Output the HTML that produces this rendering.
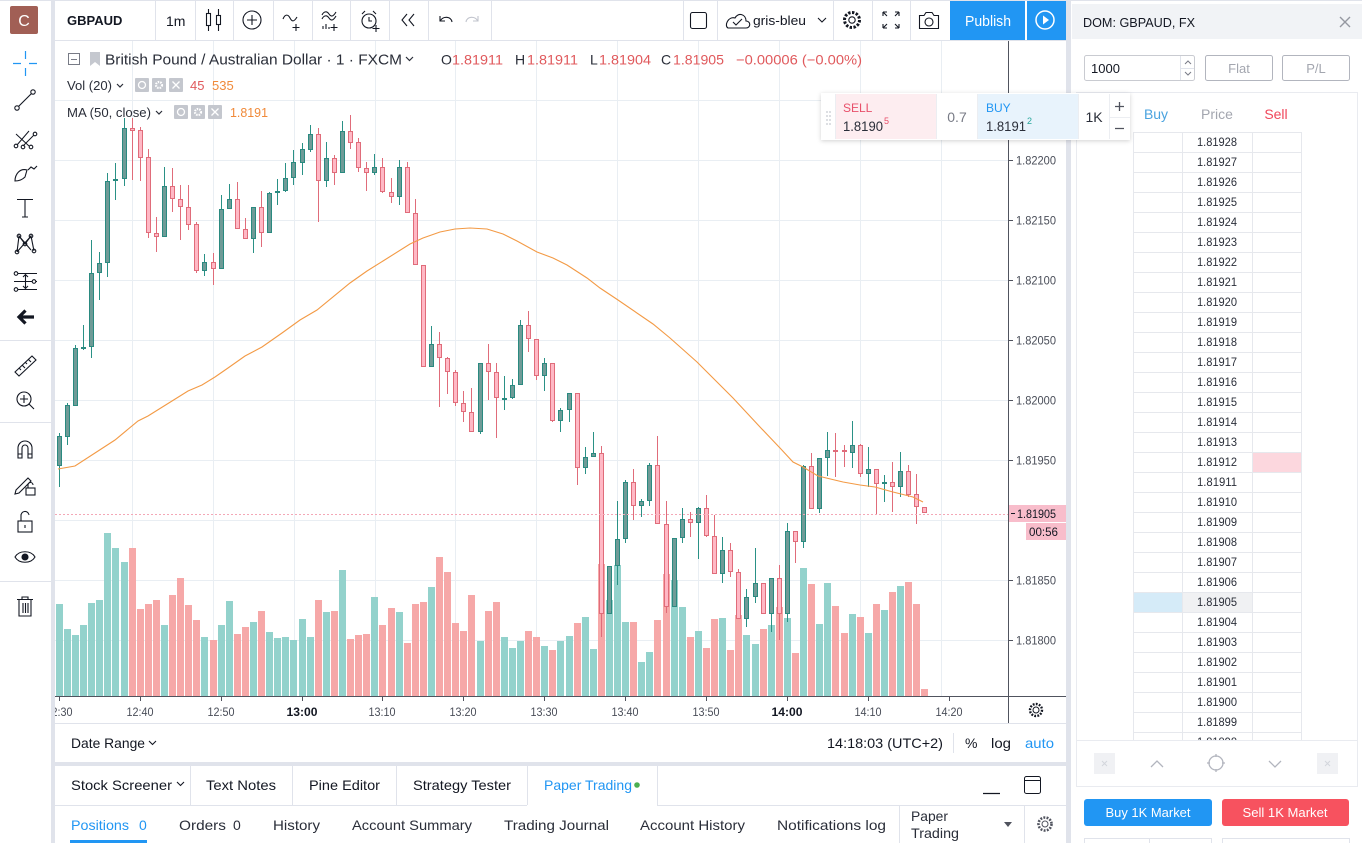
<!DOCTYPE html>
<html><head><meta charset="utf-8"><style>
html,body{margin:0;padding:0;background:#e0e3eb;}
svg{display:block;}
text{font-family:"Liberation Sans",sans-serif;}
.gw{stroke:#2a9186;stroke-width:1;fill:none}
.rw{stroke:#e06c7a;stroke-width:1;fill:none}
.gb rect{fill:#6f9b97;stroke:#2a8a80;stroke-width:1}
.rb rect{fill:#ffb8c5;stroke:#e06c7a;stroke-width:1}
.gv rect{fill:#93d2cc}
.rv rect{fill:#f6a8a8}
.ic{fill:none;stroke:#131722;stroke-width:1.1}
</style></head><body>
<svg width="1362" height="843" viewBox="0 0 1362 843" xmlns="http://www.w3.org/2000/svg">
<defs>
<clipPath id="plot"><rect x="55" y="41" width="953" height="655"/></clipPath>
<clipPath id="tax"><rect x="55" y="697" width="953" height="26"/></clipPath>
<clipPath id="dom"><rect x="1077" y="96" width="280" height="644"/></clipPath>
<filter id="sh" x="-5%" y="-20%" width="110%" height="150%"><feDropShadow dx="0" dy="1" stdDeviation="2" flood-color="#000" flood-opacity="0.18"/></filter>
</defs>
<rect width="1362" height="843" fill="#e0e3eb"/>
<!-- panels -->
<rect x="0" y="1" width="51" height="842" fill="#fff"/>
<rect x="55" y="1" width="1011" height="39" fill="#fff"/>
<rect x="55" y="41" width="1011" height="721" fill="#fff"/>
<rect x="55" y="766" width="1011" height="77" fill="#fff"/>
<rect x="1071" y="1" width="291" height="842" fill="#fff"/>

<!-- ============ LEFT TOOLBAR ============ -->
<rect x="10" y="6" width="28" height="28" rx="2" fill="#a15f55"/>
<text x="24" y="26" font-size="16" fill="#fff" text-anchor="middle">C</text>
<path d="M13 63.5H21M29 63.5H37M25.5 51V59M25.5 68V76" stroke="#2196f3" stroke-width="1.2" fill="none"/>
<g class="ic">
<circle cx="17" cy="108" r="2.2"/><circle cx="33" cy="92" r="2.2"/><path d="M18.6 106.4L31.4 93.6"/>
<path d="M16 134L29 146M17 145L29 131M23 146L34 135" stroke-width="1"/><circle cx="16" cy="146" r="1.8"/><circle cx="23" cy="147" r="1.8"/><circle cx="31" cy="147" r="1.8"/><circle cx="35" cy="134" r="1.8"/>
<path d="M15 181C15 174 20 168 27 170L25 177C22 180 18 181 15 181Z M28 170L31 167L34 169L37 166"/>
<path d="M17 199.5H33M25 199.5V217M22 217H28"/>
<path d="M17 252L19 236L25 244L31 236L34 251M19 236L31 250M17 252L31 236"/><circle cx="17" cy="252" r="1.8"/><circle cx="19" cy="236" r="1.8"/><circle cx="31" cy="236" r="1.8"/><circle cx="34" cy="251" r="1.8"/><circle cx="25" cy="244" r="1.8"/>
<path d="M14 273.5H37M14 281.5H37M14 289.5H37M25.5 275V288M23 277L25.5 274.5L28 277M23 286L25.5 288.5L28 286"/>
<circle cx="16" cy="273.5" r="1.8" fill="#fff"/><circle cx="34" cy="281.5" r="1.8" fill="#fff"/><circle cx="16" cy="289.5" r="1.8" fill="#fff"/>
<path d="M15 372L32 356L36 360L19 376Z M19 368L21 370M22 365L25 368M25 362L27 364M28 359L31 362"/>
<circle cx="24" cy="399" r="7"/><path d="M24 395V403M20 399H28M29 404L34 409"/>
<path d="M18 458V448a7 7 0 0 1 14 0V458H28V448a3 3 0 0 0 -6 0V458Z M18 454H22M28 454H32"/>
<path d="M16 490L28 478L31 481L19 493L15 494Z"/><rect x="26" y="488" width="9" height="7"/><path d="M28 488V485a2.5 2.5 0 0 1 5 0"/>
<rect x="18" y="521" width="14" height="11"/><path d="M21 521V516a4 4 0 0 1 8 -1"/><path d="M25 525V528"/>
<path d="M15 557C19 550 31 550 35 557C31 564 19 564 15 557Z"/><circle cx="25" cy="557" r="3" fill="#131722"/>
<path d="M17 599.5H33M22 599.5V597H28V599.5M19 600V616H31V600M23 603V613M25.5 603V613M28 603V613"/>
</g>
<path d="M34 317H19M25.5 310.5L19 317L25.5 323.5" fill="none" stroke="#131722" stroke-width="3.2" stroke-linejoin="miter" stroke-linecap="butt"/>
<path d="M0 340.5H51M0 422.5H51M0 581.5H51" stroke="#e0e3eb"/>

<!-- ============ TOP TOOLBAR ============ -->
<text x="67" y="25" font-size="13" font-weight="bold" fill="#131722">GBPAUD</text>
<text x="166" y="26" font-size="14" fill="#131722">1m</text>
<g stroke="#e0e3eb"><path d="M155.5 1V40M195.5 1V40M233.5 1V40M273.5 1V40M312.5 1V40M350.5 1V40M389.5 1V40M428.5 1V40M491.5 1V40M683.5 1V40M717.5 1V40M833.5 1V40M872.5 1V40M910.5 1V40"/></g>
<g class="ic">
<path d="M208.5 9V31M218.5 9V31"/><rect x="206.5" y="13.5" width="4" height="12" fill="#fff"/><rect x="216.5" y="15.5" width="4" height="9" fill="#fff"/>
<circle cx="252" cy="20" r="9"/><path d="M252 15V25M247 20H257"/>
<path d="M283 19C285 14 288 14 290 18C292 22 294 22 297 17M296 24V31M292.5 27.5H299.5"/>
<path d="M322 15C324 11 327 11 329 14C331 17 333 17 336 12M322 19C324 15 327 15 329 18C331 21 333 21 336 16M323 29V26M326 29V24M329 29V27M334 24V31M330.5 27.5H337.5"/>
<circle cx="369" cy="21" r="7"/><path d="M369 17V21H372M362 14L365 11M376 14L373 11M376 25V32M372.5 28.5H379.5"/>
<path d="M407 14L402 20L407 26M414 14L409 20L414 26"/>
<path d="M440 16V21H445M440.5 20.5C443 16 451 16 452 22"/>
</g>
<path d="M478 16V21H473M477.5 20.5C475 16 467 16 466 22" fill="none" stroke="#c1c4cd" stroke-width="1.1"/>
<g class="ic">
<rect x="690.5" y="12.5" width="16" height="16" rx="2"/>
<path d="M728 28H746C751 28 751 21 746 21C746 14 738 12 735 18C728 16 724 26 728 28Z"/><path d="M733 22L736 25L742 19"/>
<path d="M818 18L822 22L826 18"/>
<circle cx="852" cy="20" r="3.2"/>
<circle cx="852" cy="20" r="7.5" stroke-width="3" stroke-dasharray="2.4 1.5"/>
<path d="M883 12H887M883 12V16M899 12H895M899 12V16M883 28H887M883 28V24M899 28H895M899 28V24M883 12L887 16M899 12L895 16M883 28L887 24M899 28L895 24"/>
<path d="M919.5 15.5H924L926 12.5H932L934 15.5H938.5V28.5H919.5Z"/><circle cx="929" cy="22" r="4"/>
</g>
<text x="753" y="25" font-size="13" fill="#131722" textLength="53" lengthAdjust="spacingAndGlyphs">gris-bleu</text>
<rect x="950" y="1" width="75" height="39" fill="#2196f3"/>
<text x="988" y="26" font-size="15" fill="#fff" text-anchor="middle" textLength="46" lengthAdjust="spacingAndGlyphs">Publish</text>
<rect x="1027" y="1" width="39" height="39" fill="#2196f3"/>
<circle cx="1045" cy="20" r="9" fill="none" stroke="#fff" stroke-width="1.5"/>
<path d="M1043 15.5L1049 20L1043 24.5Z" fill="#fff"/>

<!-- ============ CHART ============ -->
<g clip-path="url(#plot)">
<g stroke="#e9eef3" fill="none">
<path d="M55 100.5H1008M55 160.5H1008M55 220.5H1008M55 280.5H1008M55 340.5H1008M55 400.5H1008M55 460.5H1008M55 520.5H1008M55 580.5H1008M55 640.5H1008"/>
<path d="M132.5 41V696M213.5 41V696M294.5 41V696M375.5 41V696M455.5 41V696M536.5 41V696M617.5 41V696M698.5 41V696M779.5 41V696M860.5 41V696M941.5 41V696"/>
</g>
<!-- volume -->
<g class="gv">
<rect x="56" y="604" width="7" height="92"/><rect x="64" y="629" width="7" height="67"/><rect x="72" y="635" width="7" height="61"/><rect x="80" y="625" width="7" height="71"/><rect x="88" y="603" width="7" height="93"/><rect x="96" y="600" width="7" height="96"/><rect x="104" y="533" width="7" height="163"/><rect x="112" y="548" width="7" height="148"/><rect x="121" y="562" width="7" height="134"/><rect x="161" y="625" width="7" height="71"/><rect x="201" y="637" width="7" height="59"/><rect x="218" y="625" width="7" height="71"/><rect x="226" y="601" width="7" height="95"/><rect x="250" y="622" width="7" height="74"/><rect x="266" y="632" width="7" height="64"/><rect x="274" y="638" width="7" height="58"/><rect x="282" y="637" width="7" height="59"/><rect x="290" y="640" width="7" height="56"/><rect x="299" y="619" width="7" height="77"/><rect x="307" y="637" width="7" height="59"/><rect x="323" y="612" width="7" height="84"/><rect x="339" y="570" width="7" height="126"/><rect x="371" y="597" width="7" height="99"/><rect x="396" y="612" width="7" height="84"/><rect x="428" y="587" width="7" height="109"/><rect x="477" y="641" width="7" height="55"/><rect x="501" y="637" width="7" height="59"/><rect x="509" y="648" width="7" height="48"/><rect x="517" y="641" width="7" height="55"/><rect x="541" y="646" width="7" height="50"/><rect x="557" y="641" width="7" height="55"/><rect x="566" y="636" width="7" height="60"/><rect x="582" y="617" width="7" height="79"/><rect x="590" y="649" width="7" height="47"/><rect x="606" y="600" width="7" height="96"/><rect x="614" y="565" width="7" height="131"/><rect x="622" y="622" width="7" height="74"/><rect x="638" y="662" width="7" height="34"/><rect x="646" y="652" width="7" height="44"/><rect x="671" y="580" width="7" height="116"/><rect x="679" y="607" width="7" height="89"/><rect x="695" y="631" width="7" height="65"/><rect x="719" y="618" width="7" height="78"/><rect x="743" y="635" width="7" height="61"/><rect x="752" y="644" width="7" height="52"/><rect x="768" y="625" width="7" height="71"/><rect x="784" y="618" width="7" height="78"/><rect x="800" y="568" width="7" height="128"/><rect x="816" y="624" width="7" height="72"/><rect x="824" y="583" width="7" height="113"/><rect x="849" y="614" width="7" height="82"/><rect x="865" y="633" width="7" height="63"/><rect x="881" y="610" width="7" height="86"/><rect x="897" y="586" width="7" height="110"/>
</g>
<g class="rv">
<rect x="129" y="548" width="7" height="148"/><rect x="137" y="609" width="7" height="87"/><rect x="145" y="604" width="7" height="92"/><rect x="153" y="600" width="7" height="96"/><rect x="169" y="595" width="7" height="101"/><rect x="177" y="578" width="7" height="118"/><rect x="185" y="605" width="7" height="91"/><rect x="193" y="620" width="7" height="76"/><rect x="210" y="640" width="7" height="56"/><rect x="234" y="634" width="7" height="62"/><rect x="242" y="627" width="7" height="69"/><rect x="258" y="611" width="7" height="85"/><rect x="315" y="600" width="7" height="96"/><rect x="331" y="611" width="7" height="85"/><rect x="347" y="639" width="7" height="57"/><rect x="355" y="635" width="7" height="61"/><rect x="363" y="634" width="7" height="62"/><rect x="379" y="625" width="7" height="71"/><rect x="388" y="608" width="7" height="88"/><rect x="404" y="643" width="7" height="53"/><rect x="412" y="604" width="7" height="92"/><rect x="420" y="602" width="7" height="94"/><rect x="436" y="557" width="7" height="139"/><rect x="444" y="572" width="7" height="124"/><rect x="452" y="623" width="7" height="73"/><rect x="460" y="631" width="7" height="65"/><rect x="468" y="595" width="7" height="101"/><rect x="485" y="611" width="7" height="85"/><rect x="493" y="602" width="7" height="94"/><rect x="525" y="631" width="7" height="65"/><rect x="533" y="637" width="7" height="59"/><rect x="549" y="650" width="7" height="46"/><rect x="574" y="623" width="7" height="73"/><rect x="598" y="564" width="7" height="132"/><rect x="630" y="622" width="7" height="74"/><rect x="654" y="620" width="7" height="76"/><rect x="663" y="574" width="7" height="122"/><rect x="687" y="637" width="7" height="59"/><rect x="703" y="648" width="7" height="48"/><rect x="711" y="619" width="7" height="77"/><rect x="727" y="650" width="7" height="46"/><rect x="735" y="615" width="7" height="81"/><rect x="760" y="629" width="7" height="67"/><rect x="776" y="607" width="7" height="89"/><rect x="792" y="653" width="7" height="43"/><rect x="808" y="584" width="7" height="112"/><rect x="832" y="606" width="7" height="90"/><rect x="841" y="633" width="7" height="63"/><rect x="857" y="617" width="7" height="79"/><rect x="873" y="604" width="7" height="92"/><rect x="889" y="592" width="7" height="104"/><rect x="905" y="582" width="7" height="114"/><rect x="913" y="604" width="7" height="92"/><rect x="921" y="689" width="7" height="7"/>
</g>
<!-- wicks -->
<path class="gw" d="M59.5 433V487M67.5 403V445M75.5 345V406M83.5 325V350M91.5 240V358M99.5 252V300M107.5 173V277M115.5 163V200M124.5 118V186M164.5 167V237M204.5 254V276M221.5 195V269M229.5 184V209M253.5 207V253M269.5 192V233M277.5 179V205M285.5 163V192M293.5 150V185M302.5 143V175M310.5 125V152M326.5 142V187M342.5 121V173M374.5 154V175M399.5 160V205M431.5 326V367M480.5 363V434M504.5 376V410M512.5 379V399M520.5 320V385M544.5 358V391M560.5 408V432M569.5 393V422M585.5 447V474M593.5 432V457M609.5 566V614M617.5 501V585M625.5 480V543M641.5 499V517M649.5 463V506M674.5 538V607M682.5 508V543M698.5 507V559M722.5 537V583M746.5 589V627M755.5 548V603M771.5 578V632M787.5 523V622M803.5 465V548M819.5 458V513M827.5 432V476M852.5 421V468M868.5 447V487M884.5 475V502M900.5 452V497"/>
<path class="rw" d="M132.5 118V180M140.5 127V181M148.5 149V238M156.5 217V252M172.5 168V212M180.5 185V240M188.5 185V230M196.5 222V273M213.5 253V285M237.5 182V229M245.5 218V239M261.5 191V247M318.5 128V222M334.5 155V185M350.5 115V149M358.5 138V172M366.5 162V191M382.5 158V193M391.5 178V203M407.5 162V213M415.5 199V265M423.5 265V367M439.5 332V407M447.5 357V394M455.5 370V406M463.5 391V422M471.5 388V432M488.5 344V400M496.5 363V438M528.5 311V352M536.5 339V380M552.5 363V422M577.5 393V485M601.5 446V637M633.5 469V520M657.5 436V524M666.5 501V613M690.5 512V537M706.5 495V537M714.5 515V574M730.5 543V577M738.5 569V619M763.5 583V614M779.5 565V640M795.5 531V563M811.5 453V509M835.5 433V477M844.5 445V467M860.5 444V477M876.5 469V515M892.5 462V512M908.5 465V497M916.5 474V524M924.5 507V513"/>
<!-- bodies -->
<g class="gb">
<rect x="57.5" y="436.5" width="4" height="29"/><rect x="65.5" y="405.5" width="4" height="31"/><rect x="73.5" y="348.5" width="4" height="57"/><rect x="81.5" y="347.5" width="4" height="1"/><rect x="89.5" y="273.5" width="4" height="73"/><rect x="97.5" y="263.5" width="4" height="9"/><rect x="105.5" y="181.5" width="4" height="81"/><rect x="113.5" y="179.5" width="4" height="1"/><rect x="122.5" y="128.5" width="4" height="50"/><rect x="162.5" y="186.5" width="4" height="50"/><rect x="202.5" y="262.5" width="4" height="8"/><rect x="219.5" y="209.5" width="4" height="59"/><rect x="227.5" y="199.5" width="4" height="9"/><rect x="251.5" y="207.5" width="4" height="31"/><rect x="267.5" y="193.5" width="4" height="39"/><rect x="275.5" y="191.5" width="4" height="1"/><rect x="283.5" y="178.5" width="4" height="12"/><rect x="291.5" y="162.5" width="4" height="15"/><rect x="300.5" y="149.5" width="4" height="13"/><rect x="308.5" y="134.5" width="4" height="15"/><rect x="324.5" y="158.5" width="4" height="22"/><rect x="340.5" y="131.5" width="4" height="41"/><rect x="372.5" y="167.5" width="4" height="5"/><rect x="397.5" y="167.5" width="4" height="29"/><rect x="429.5" y="344.5" width="4" height="22"/><rect x="478.5" y="363.5" width="4" height="68"/><rect x="502.5" y="398.5" width="4" height="1"/><rect x="510.5" y="385.5" width="4" height="12"/><rect x="518.5" y="325.5" width="4" height="59"/><rect x="542.5" y="363.5" width="4" height="12"/><rect x="558.5" y="410.5" width="4" height="10"/><rect x="567.5" y="393.5" width="4" height="16"/><rect x="583.5" y="457.5" width="4" height="10"/><rect x="591.5" y="453.5" width="4" height="3"/><rect x="607.5" y="566.5" width="4" height="47"/><rect x="615.5" y="539.5" width="4" height="26"/><rect x="623.5" y="482.5" width="4" height="56"/><rect x="639.5" y="501.5" width="4" height="4"/><rect x="647.5" y="465.5" width="4" height="35"/><rect x="672.5" y="538.5" width="4" height="68"/><rect x="680.5" y="519.5" width="4" height="18"/><rect x="696.5" y="508.5" width="4" height="14"/><rect x="720.5" y="550.5" width="4" height="23"/><rect x="744.5" y="597.5" width="4" height="21"/><rect x="753.5" y="583.5" width="4" height="13"/><rect x="769.5" y="578.5" width="4" height="35"/><rect x="785.5" y="531.5" width="4" height="82"/><rect x="801.5" y="466.5" width="4" height="75"/><rect x="817.5" y="458.5" width="4" height="50"/><rect x="825.5" y="450.5" width="4" height="7"/><rect x="850.5" y="445.5" width="4" height="7"/><rect x="866.5" y="469.5" width="4" height="4"/><rect x="882.5" y="482.5" width="4" height="1"/><rect x="898.5" y="471.5" width="4" height="15"/>
</g>
<g class="rb">
<rect x="130.5" y="128.5" width="4" height="2"/><rect x="138.5" y="130.5" width="4" height="27"/><rect x="146.5" y="157.5" width="4" height="75"/><rect x="154.5" y="233.5" width="4" height="3"/><rect x="170.5" y="186.5" width="4" height="12"/><rect x="178.5" y="199.5" width="4" height="7"/><rect x="186.5" y="207.5" width="4" height="17"/><rect x="194.5" y="224.5" width="4" height="46"/><rect x="211.5" y="262.5" width="4" height="6"/><rect x="235.5" y="199.5" width="4" height="29"/><rect x="243.5" y="229.5" width="4" height="9"/><rect x="259.5" y="207.5" width="4" height="25"/><rect x="316.5" y="134.5" width="4" height="46"/><rect x="332.5" y="158.5" width="4" height="14"/><rect x="348.5" y="131.5" width="4" height="11"/><rect x="356.5" y="142.5" width="4" height="25"/><rect x="364.5" y="168.5" width="4" height="4"/><rect x="380.5" y="167.5" width="4" height="24"/><rect x="389.5" y="192.5" width="4" height="4"/><rect x="405.5" y="167.5" width="4" height="45"/><rect x="413.5" y="213.5" width="4" height="51"/><rect x="421.5" y="265.5" width="4" height="101"/><rect x="437.5" y="344.5" width="4" height="13"/><rect x="445.5" y="358.5" width="4" height="13"/><rect x="453.5" y="372.5" width="4" height="30"/><rect x="461.5" y="403.5" width="4" height="8"/><rect x="469.5" y="412.5" width="4" height="19"/><rect x="486.5" y="363.5" width="4" height="8"/><rect x="494.5" y="372.5" width="4" height="25"/><rect x="526.5" y="325.5" width="4" height="13"/><rect x="534.5" y="339.5" width="4" height="36"/><rect x="550.5" y="363.5" width="4" height="57"/><rect x="575.5" y="393.5" width="4" height="74"/><rect x="599.5" y="453.5" width="4" height="160"/><rect x="631.5" y="482.5" width="4" height="23"/><rect x="655.5" y="465.5" width="4" height="58"/><rect x="664.5" y="524.5" width="4" height="82"/><rect x="688.5" y="519.5" width="4" height="3"/><rect x="704.5" y="508.5" width="4" height="27"/><rect x="712.5" y="536.5" width="4" height="37"/><rect x="728.5" y="550.5" width="4" height="21"/><rect x="736.5" y="572.5" width="4" height="46"/><rect x="761.5" y="583.5" width="4" height="30"/><rect x="777.5" y="578.5" width="4" height="35"/><rect x="793.5" y="531.5" width="4" height="10"/><rect x="809.5" y="466.5" width="4" height="42"/><rect x="833.5" y="450.5" width="4" height="1"/><rect x="842.5" y="450.5" width="4" height="1"/><rect x="858.5" y="445.5" width="4" height="28"/><rect x="874.5" y="469.5" width="4" height="14"/><rect x="890.5" y="482.5" width="4" height="4"/><rect x="906.5" y="471.5" width="4" height="23"/><rect x="914.5" y="494.5" width="4" height="12"/><rect x="922.5" y="507.5" width="4" height="5"/>
</g>
<!-- MA -->
<polyline fill="none" stroke="#f39a45" stroke-width="1.1" points="58,469 75,466 95,453 115,440 138,421 148,416 172,401 188,391 202,385 215,377 228,368 245,356 262,347 282,333 300,320 317,310 350,283 367,271 383,261 410,244 423,238 440,232 455,229 470,228 487,229 503,234 517,241 537,252 553,258 567,265 587,278 600,288 618,300 653,324 670,338 697,362 733,398 760,427 780,448 793,462 803,467 818,476 843,482 860,485 875,487 893,492 913,497 923,502"/>
<path d="M55 514.5H1008" stroke="#f4a7b6" stroke-dasharray="2 2"/>
</g>
<!-- axes -->
<path d="M55 696.5H1066M1008.5 41V723" stroke="#50535e"/>
<path d="M55 723.5H1066" stroke="#e0e3eb"/>
<g stroke="#50535e"><path d="M1009 160.5H1013M1009 220.5H1013M1009 280.5H1013M1009 340.5H1013M1009 400.5H1013M1009 460.5H1013M1009 580.5H1013M1009 640.5H1013"/>
<path d="M59.5 697V701M140.5 697V701M221.5 697V701M302.5 697V701M382.5 697V701M463.5 697V701M544.5 697V701M625.5 697V701M706.5 697V701M787.5 697V701M868.5 697V701M949.5 697V701"/></g>
<g font-size="12" fill="#4a4e59">
<text x="1016" y="164.5" textLength="40" lengthAdjust="spacingAndGlyphs">1.82200</text>
<text x="1016" y="224.5" textLength="40" lengthAdjust="spacingAndGlyphs">1.82150</text>
<text x="1016" y="284.5" textLength="40" lengthAdjust="spacingAndGlyphs">1.82100</text>
<text x="1016" y="344.5" textLength="40" lengthAdjust="spacingAndGlyphs">1.82050</text>
<text x="1016" y="404.5" textLength="40" lengthAdjust="spacingAndGlyphs">1.82000</text>
<text x="1016" y="464.5" textLength="40" lengthAdjust="spacingAndGlyphs">1.81950</text>
<text x="1016" y="584.5" textLength="40" lengthAdjust="spacingAndGlyphs">1.81850</text>
<text x="1016" y="644.5" textLength="40" lengthAdjust="spacingAndGlyphs">1.81800</text>
</g>
<rect x="1009" y="505" width="57" height="17" fill="#f8bdcb"/>
<path d="M1011 513.5H1015" stroke="#131722"/>
<text x="1017" y="518" font-size="12" fill="#131722" textLength="39" lengthAdjust="spacingAndGlyphs">1.81905</text>
<rect x="1026" y="523" width="40" height="17" fill="#f8bdcb"/>
<text x="1029" y="536" font-size="12" fill="#131722" textLength="29" lengthAdjust="spacingAndGlyphs">00:56</text>
<g clip-path="url(#tax)" font-size="12" fill="#4a4e59" text-anchor="middle">
<text x="59" y="716" textLength="27" lengthAdjust="spacingAndGlyphs">12:30</text>
<text x="140" y="716" textLength="27" lengthAdjust="spacingAndGlyphs">12:40</text>
<text x="221" y="716" textLength="27" lengthAdjust="spacingAndGlyphs">12:50</text>
<text x="302" y="716" font-weight="bold" fill="#131722" textLength="31" lengthAdjust="spacingAndGlyphs">13:00</text>
<text x="382" y="716" textLength="27" lengthAdjust="spacingAndGlyphs">13:10</text>
<text x="463" y="716" textLength="27" lengthAdjust="spacingAndGlyphs">13:20</text>
<text x="544" y="716" textLength="27" lengthAdjust="spacingAndGlyphs">13:30</text>
<text x="625" y="716" textLength="27" lengthAdjust="spacingAndGlyphs">13:40</text>
<text x="706" y="716" textLength="27" lengthAdjust="spacingAndGlyphs">13:50</text>
<text x="787" y="716" font-weight="bold" fill="#131722" textLength="31" lengthAdjust="spacingAndGlyphs">14:00</text>
<text x="868" y="716" textLength="27" lengthAdjust="spacingAndGlyphs">14:10</text>
<text x="949" y="716" textLength="27" lengthAdjust="spacingAndGlyphs">14:20</text>
</g>
<circle cx="1036" cy="710" r="3" fill="none" stroke="#131722"/>
<circle cx="1036" cy="710" r="6" fill="none" stroke="#131722" stroke-width="2.4" stroke-dasharray="1.8 1.3"/>

<!-- legend -->
<rect x="68.5" y="53.5" width="11" height="11" fill="none" stroke="#787b86"/><path d="M71 59.5H77" stroke="#787b86"/>
<path d="M90 52H100V66L95 62L90 66Z" fill="#c5c8cf"/>
<text x="105" y="64.5" font-size="15" fill="#2a2e39" textLength="297" lengthAdjust="spacingAndGlyphs">British Pound / Australian Dollar · 1 · FXCM</text>
<path d="M406 57L409.5 60.5L413 57" fill="none" stroke="#2a2e39" stroke-width="1.2"/>
<g font-size="14">
<text x="441" y="64.5" fill="#2a2e39">O</text><text x="452" y="64.5" fill="#e0595c" textLength="51" lengthAdjust="spacingAndGlyphs">1.81911</text>
<text x="515" y="64.5" fill="#2a2e39">H</text><text x="527" y="64.5" fill="#e0595c" textLength="51" lengthAdjust="spacingAndGlyphs">1.81911</text>
<text x="590" y="64.5" fill="#2a2e39">L</text><text x="599" y="64.5" fill="#e0595c" textLength="52" lengthAdjust="spacingAndGlyphs">1.81904</text>
<text x="661" y="64.5" fill="#2a2e39">C</text><text x="673" y="64.5" fill="#e0595c" textLength="51" lengthAdjust="spacingAndGlyphs">1.81905</text>
<text x="736" y="64.5" fill="#e0595c" textLength="126" lengthAdjust="spacingAndGlyphs">−0.00006 (−0.00%)</text>
</g>
<text x="67" y="90" font-size="13" fill="#2a2e39" textLength="45" lengthAdjust="spacingAndGlyphs">Vol (20)</text>
<path d="M117 84L120 87L123 84" fill="none" stroke="#2a2e39" stroke-width="1.2"/>
<g fill="#c4c7ce"><rect x="135" y="78" width="14" height="14" rx="1"/><rect x="152" y="78" width="14" height="14" rx="1"/><rect x="169" y="78" width="14" height="14" rx="1"/>
<rect x="174" y="105" width="14" height="14" rx="1"/><rect x="191" y="105" width="14" height="14" rx="1"/><rect x="208" y="105" width="14" height="14" rx="1"/></g>
<g fill="none" stroke="#fff" stroke-width="1.3"><circle cx="142" cy="85" r="3.5"/><circle cx="159" cy="85" r="3" stroke-width="2.2" stroke-dasharray="1.5 1"/><path d="M172.5 81.5L179.5 88.5M179.5 81.5L172.5 88.5"/>
<circle cx="181" cy="112" r="3.5"/><circle cx="198" cy="112" r="3" stroke-width="2.2" stroke-dasharray="1.5 1"/><path d="M211.5 108.5L218.5 115.5M218.5 108.5L211.5 115.5"/></g>
<text x="190" y="90" font-size="13" fill="#e0595c">45</text>
<text x="212" y="90" font-size="13" fill="#f08a3a">535</text>
<text x="67" y="117" font-size="13" fill="#2a2e39" textLength="84" lengthAdjust="spacingAndGlyphs">MA (50, close)</text>
<path d="M156 111L159 114L162 111" fill="none" stroke="#2a2e39" stroke-width="1.2"/>
<text x="230" y="117" font-size="13" fill="#f08a3a" textLength="38" lengthAdjust="spacingAndGlyphs">1.8191</text>

<!-- date range row -->
<text x="71" y="748" font-size="14" fill="#131722" textLength="74" lengthAdjust="spacingAndGlyphs">Date Range</text>
<path d="M149 741L152.5 744.5L156 741" fill="none" stroke="#131722" stroke-width="1.1"/>
<text x="827" y="748" font-size="14" fill="#131722" textLength="116" lengthAdjust="spacingAndGlyphs">14:18:03 (UTC+2)</text>
<path d="M953.5 733V753" stroke="#e0e3eb"/>
<text x="965" y="748" font-size="14" fill="#131722">%</text>
<text x="991" y="748" font-size="14" fill="#131722" textLength="20" lengthAdjust="spacingAndGlyphs">log</text>
<text x="1025" y="748" font-size="14" fill="#2196f3" textLength="29" lengthAdjust="spacingAndGlyphs">auto</text>

<!-- ============ BOTTOM PANEL ============ -->
<g stroke="#e0e3eb"><path d="M190.5 766V805M292.5 766V805M396.5 766V805M527.5 766V805M657.5 766V805M55 805.5H527M657 805.5H1066M899.5 806V843M1024.5 806V843"/></g>
<g font-size="14" fill="#131722">
<text x="71" y="790" textLength="101" lengthAdjust="spacingAndGlyphs">Stock Screener</text>
<text x="206" y="790" textLength="70" lengthAdjust="spacingAndGlyphs">Text Notes</text>
<text x="309" y="790" textLength="71" lengthAdjust="spacingAndGlyphs">Pine Editor</text>
<text x="413" y="790" textLength="98" lengthAdjust="spacingAndGlyphs">Strategy Tester</text>
<text x="544" y="790" fill="#2196f3" textLength="88" lengthAdjust="spacingAndGlyphs">Paper Trading</text>
<text x="71" y="830" fill="#2196f3" textLength="58" lengthAdjust="spacingAndGlyphs">Positions</text>
<text x="139" y="830" fill="#2196f3">0</text>
<text x="179" y="830" fill="#2a2e39" textLength="47" lengthAdjust="spacingAndGlyphs">Orders</text>
<text x="233" y="830" fill="#2a2e39">0</text>
<text x="273" y="830" fill="#2a2e39" textLength="47" lengthAdjust="spacingAndGlyphs">History</text>
<text x="352" y="830" fill="#2a2e39" textLength="120" lengthAdjust="spacingAndGlyphs">Account Summary</text>
<text x="504" y="830" fill="#2a2e39" textLength="105" lengthAdjust="spacingAndGlyphs">Trading Journal</text>
<text x="640" y="830" fill="#2a2e39" textLength="105" lengthAdjust="spacingAndGlyphs">Account History</text>
<text x="777" y="830" fill="#2a2e39" textLength="109" lengthAdjust="spacingAndGlyphs">Notifications log</text>
<text x="911" y="821" fill="#2a2e39" textLength="37" lengthAdjust="spacingAndGlyphs">Paper</text>
<text x="911" y="838" fill="#2a2e39" textLength="48" lengthAdjust="spacingAndGlyphs">Trading</text>
</g>
<path d="M177 782L180.5 785.5L184 782" fill="none" stroke="#131722" stroke-width="1.1"/>
<circle cx="637" cy="785" r="2.8" fill="#4caf50"/>
<rect x="70" y="840" width="77" height="3" fill="#2196f3"/>
<path d="M1004 822H1012L1008 827Z" fill="#50535e"/>
<circle cx="1045" cy="824" r="3" fill="none" stroke="#50535e"/>
<circle cx="1045" cy="824" r="6.5" fill="none" stroke="#50535e" stroke-width="2.6" stroke-dasharray="1.9 1.3"/>
<path d="M983 793.5H1000" stroke="#131722" stroke-width="1.2"/>
<rect x="1024.5" y="776.5" width="16" height="17" rx="2" fill="none" stroke="#131722"/><path d="M1025 780.5H1040" stroke="#131722"/>

<!-- ============ DOM PANEL ============ -->
<rect x="1072" y="4" width="290" height="35" fill="#f1f3f6"/>
<text x="1083" y="27" font-size="13" fill="#131722" textLength="112" lengthAdjust="spacingAndGlyphs">DOM: GBPAUD, FX</text>
<path d="M1340 17L1350 27M1350 17L1340 27" stroke="#9598a1" stroke-width="1.4"/>
<rect x="1084.5" y="55.5" width="110" height="25" rx="2" fill="#fff" stroke="#c9cbd1"/>
<path d="M1180.5 56V80M1181 68.5H1194" stroke="#e0e3eb"/>
<path d="M1185 64L1188 61L1191 64M1185 72L1188 75L1191 72" fill="none" stroke="#787b86"/>
<text x="1091" y="73" font-size="13" fill="#131722">1000</text>
<rect x="1205.5" y="55.5" width="67" height="25" rx="2" fill="#fff" stroke="#b2b5be"/>
<text x="1239" y="73" font-size="13" fill="#a3a6af" text-anchor="middle">Flat</text>
<rect x="1282.5" y="55.5" width="67" height="25" rx="2" fill="#fff" stroke="#b2b5be"/>
<text x="1316" y="73" font-size="13" fill="#a3a6af" text-anchor="middle">P/L</text>
<rect x="1076.5" y="92.5" width="281" height="694" fill="#fff" stroke="#e9ebf0"/>
<text x="1156" y="119" font-size="14" fill="#4aa3df" text-anchor="middle">Buy</text>
<text x="1217" y="119" font-size="14" fill="#a3a6af" text-anchor="middle">Price</text>
<text x="1276" y="119" font-size="14" fill="#f0475b" text-anchor="middle">Sell</text>
<g clip-path="url(#dom)">
<rect x="1253" y="453" width="48" height="19" fill="#fcd7de"/>
<rect x="1133" y="593" width="49" height="19" fill="#d5ebf8"/>
<rect x="1183" y="593" width="69" height="19" fill="#f0f1f3"/>
<path stroke="#e6e8ed" fill="none" d="M1133.5 132V740M1182.5 132V740M1252.5 132V740M1301.5 132V740M1133 132.5H1302M1133 152.5H1302M1133 172.5H1302M1133 192.5H1302M1133 212.5H1302M1133 232.5H1302M1133 252.5H1302M1133 272.5H1302M1133 292.5H1302M1133 312.5H1302M1133 332.5H1302M1133 352.5H1302M1133 372.5H1302M1133 392.5H1302M1133 412.5H1302M1133 432.5H1302M1133 452.5H1302M1133 472.5H1302M1133 492.5H1302M1133 512.5H1302M1133 532.5H1302M1133 552.5H1302M1133 572.5H1302M1133 592.5H1302M1133 612.5H1302M1133 632.5H1302M1133 652.5H1302M1133 672.5H1302M1133 692.5H1302M1133 712.5H1302M1133 732.5H1302"/>
<g font-size="12" fill="#2a2e39" text-anchor="middle">
<text x="1217" y="146" textLength="40" lengthAdjust="spacingAndGlyphs">1.81928</text>
<text x="1217" y="166" textLength="40" lengthAdjust="spacingAndGlyphs">1.81927</text>
<text x="1217" y="186" textLength="40" lengthAdjust="spacingAndGlyphs">1.81926</text>
<text x="1217" y="206" textLength="40" lengthAdjust="spacingAndGlyphs">1.81925</text>
<text x="1217" y="226" textLength="40" lengthAdjust="spacingAndGlyphs">1.81924</text>
<text x="1217" y="246" textLength="40" lengthAdjust="spacingAndGlyphs">1.81923</text>
<text x="1217" y="266" textLength="40" lengthAdjust="spacingAndGlyphs">1.81922</text>
<text x="1217" y="286" textLength="40" lengthAdjust="spacingAndGlyphs">1.81921</text>
<text x="1217" y="306" textLength="40" lengthAdjust="spacingAndGlyphs">1.81920</text>
<text x="1217" y="326" textLength="40" lengthAdjust="spacingAndGlyphs">1.81919</text>
<text x="1217" y="346" textLength="40" lengthAdjust="spacingAndGlyphs">1.81918</text>
<text x="1217" y="366" textLength="40" lengthAdjust="spacingAndGlyphs">1.81917</text>
<text x="1217" y="386" textLength="40" lengthAdjust="spacingAndGlyphs">1.81916</text>
<text x="1217" y="406" textLength="40" lengthAdjust="spacingAndGlyphs">1.81915</text>
<text x="1217" y="426" textLength="40" lengthAdjust="spacingAndGlyphs">1.81914</text>
<text x="1217" y="446" textLength="40" lengthAdjust="spacingAndGlyphs">1.81913</text>
<text x="1217" y="466" textLength="40" lengthAdjust="spacingAndGlyphs">1.81912</text>
<text x="1217" y="486" textLength="40" lengthAdjust="spacingAndGlyphs">1.81911</text>
<text x="1217" y="506" textLength="40" lengthAdjust="spacingAndGlyphs">1.81910</text>
<text x="1217" y="526" textLength="40" lengthAdjust="spacingAndGlyphs">1.81909</text>
<text x="1217" y="546" textLength="40" lengthAdjust="spacingAndGlyphs">1.81908</text>
<text x="1217" y="566" textLength="40" lengthAdjust="spacingAndGlyphs">1.81907</text>
<text x="1217" y="586" textLength="40" lengthAdjust="spacingAndGlyphs">1.81906</text>
<text x="1217" y="606" textLength="40" lengthAdjust="spacingAndGlyphs">1.81905</text>
<text x="1217" y="626" textLength="40" lengthAdjust="spacingAndGlyphs">1.81904</text>
<text x="1217" y="646" textLength="40" lengthAdjust="spacingAndGlyphs">1.81903</text>
<text x="1217" y="666" textLength="40" lengthAdjust="spacingAndGlyphs">1.81902</text>
<text x="1217" y="686" textLength="40" lengthAdjust="spacingAndGlyphs">1.81901</text>
<text x="1217" y="706" textLength="40" lengthAdjust="spacingAndGlyphs">1.81900</text>
<text x="1217" y="726" textLength="40" lengthAdjust="spacingAndGlyphs">1.81899</text>
<text x="1217" y="746" textLength="40" lengthAdjust="spacingAndGlyphs">1.81898</text>
</g>
</g>
<path d="M1077 740.5H1357" stroke="#e9ebf0"/>
<rect x="1094" y="753" width="21" height="21" fill="#f0f1f4"/><rect x="1317" y="753" width="21" height="21" fill="#f0f1f4"/>
<path d="M1102 761L1107 766M1107 761L1102 766M1325 761L1330 766M1330 761L1325 766" stroke="#d3d6dc"/>
<path d="M1151 767L1157 761L1163 767M1269 761L1275 767L1281 761" fill="none" stroke="#b2b5be" stroke-width="1.3"/>
<circle cx="1216" cy="763" r="7" fill="none" stroke="#b2b5be" stroke-width="1.3"/><path d="M1216 754V757M1216 769V772M1207 763H1210M1222 763H1225" stroke="#b2b5be" stroke-width="1.3"/>
<rect x="1084" y="799" width="128" height="27" rx="3" fill="#2196f3"/>
<text x="1148" y="817" font-size="13" fill="#fff" text-anchor="middle" textLength="85" lengthAdjust="spacingAndGlyphs">Buy 1K Market</text>
<rect x="1222" y="799" width="127" height="27" rx="3" fill="#f7525f"/>
<text x="1285" y="817" font-size="13" fill="#fff" text-anchor="middle" textLength="85" lengthAdjust="spacingAndGlyphs">Sell 1K Market</text>
<path d="M1084.5 843V838.5H1149.5V843M1149.5 838.5H1211.5V843M1222.5 843V838.5H1349.5V843" fill="none" stroke="#e0e3eb"/>

<!-- ============ TRADING WIDGET ============ -->
<rect x="821" y="93" width="309" height="47" fill="#fff" filter="url(#sh)"/>
<rect x="836" y="94" width="100" height="45" fill="#fdedf0"/>
<rect x="978" y="94" width="100" height="45" fill="#e8f3fc"/>
<g fill="#c5c8cf"><circle cx="827" cy="112" r="0.9"/><circle cx="830" cy="112" r="0.9"/><circle cx="827" cy="116" r="0.9"/><circle cx="830" cy="116" r="0.9"/><circle cx="827" cy="120" r="0.9"/><circle cx="830" cy="120" r="0.9"/><circle cx="827" cy="124" r="0.9"/><circle cx="830" cy="124" r="0.9"/></g>
<path d="M835.5 94V139M936.5 94V139M977.5 94V139M1078.5 94V139M1109.5 94V139M1110 117.5H1130" stroke="#eceef2"/>
<text x="843" y="112" font-size="12" fill="#e8506a">SELL</text>
<text x="843" y="131" font-size="14" fill="#2a2e39" textLength="40" lengthAdjust="spacingAndGlyphs">1.8190</text>
<text x="884" y="124" font-size="9" fill="#e8506a">5</text>
<text x="957" y="122" font-size="14" fill="#787b86" text-anchor="middle">0.7</text>
<text x="986" y="112" font-size="12" fill="#2196f3">BUY</text>
<text x="986" y="131" font-size="14" fill="#2a2e39" textLength="40" lengthAdjust="spacingAndGlyphs">1.8191</text>
<text x="1027" y="124" font-size="9" fill="#26a69a">2</text>
<text x="1094" y="122" font-size="14" fill="#2a2e39" text-anchor="middle">1K</text>
<path d="M1115 106.5H1124M1119.5 102V111M1115 128.5H1124" stroke="#50535e" stroke-width="1.3"/>
</svg>
</body></html>
